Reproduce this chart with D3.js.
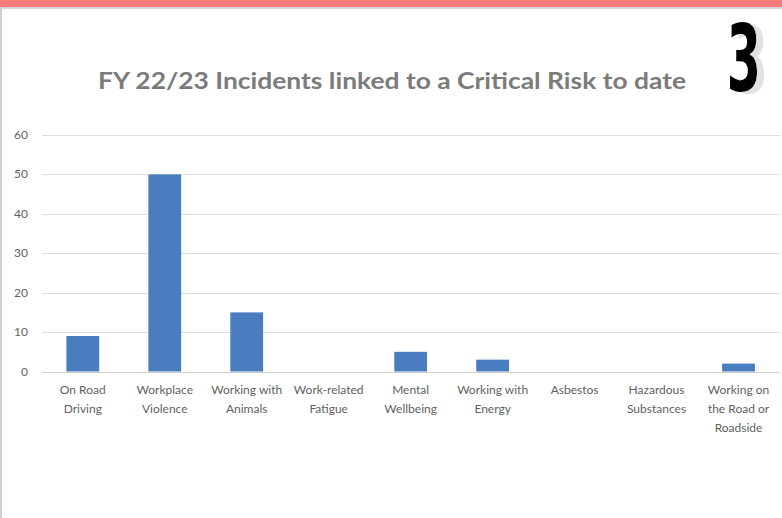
<!DOCTYPE html>
<html>
<head>
<meta charset="utf-8">
<script src="https://cdn.jsdelivr.net/npm/d3@7"></script>
<style>
  body { margin: 0; background: #fff; }
  svg { display: block; }
</style>
</head>
<body>
<script>
let w = 782
let h = 518

// chart data
let categories = [
  ["On Road", "Driving"],
  ["Workplace", "Violence"],
  ["Working with", "Animals"],
  ["Work-related", "Fatigue"],
  ["Mental", "Wellbeing"],
  ["Working with", "Energy"],
  ["Asbestos"],
  ["Hazardous", "Substances"],
  ["Working on", "the Road or", "Roadside"]
]
let incidents = [9, 50, 15, 0, 5, 3, 0, 0, 2]
let yTicks = [0, 10, 20, 30, 40, 50, 60]
let title = "FY 22/23 Incidents linked to a Critical Risk to date"

let svg = d3.select("body").append("svg")
  .attr("width", w)
  .attr("height", h)

// shadow for the big number (offsets are in the text's scaled units)
let shadow = svg.append("defs").append("filter")
  .attr("id", "shadow")
  .attr("x", "-20%").attr("y", "-20%")
  .attr("width", "180%").attr("height", "160%")
shadow.append("feOffset").attr("in", "SourceAlpha").attr("dx", 14).attr("dy", 2).attr("result", "off")
shadow.append("feFlood").attr("flood-color", "#e2e2e2").attr("result", "col")
shadow.append("feComposite").attr("in", "col").attr("in2", "off").attr("operator", "in").attr("result", "sh")
let merge = shadow.append("feMerge")
merge.append("feMergeNode").attr("in", "sh")
merge.append("feMergeNode").attr("in", "SourceGraphic")

// page frame: pink band on top, grey border lines
svg.append("rect").attr("x", 0).attr("y", 0).attr("width", w).attr("height", 7).attr("fill", "#ff7a7c")
svg.append("rect").attr("x", 0).attr("y", 7).attr("width", w).attr("height", 2).attr("fill", "#d4d4d4")
svg.append("rect").attr("x", 0).attr("y", 7).attr("width", 2).attr("height", h - 7).attr("fill", "#cfcfcf")

let x = d3.scaleBand()
  .domain(d3.range(categories.length))
  .range([41.8, 779.5])
  .paddingInner(0.6)
  .paddingOuter(0.3)

let y = d3.scaleLinear()
  .domain([0, 60])
  .range([371.5, 135])

// gridlines
svg.append("g")
  .selectAll("line")
  .data(yTicks)
  .enter()
  .append("line")
  .attr("x1", 42)
  .attr("x2", 780)
  .attr("y1", d => Math.round(y(d)) + 0.5)
  .attr("y2", d => Math.round(y(d)) + 0.5)
  .attr("stroke", d => d === 0 ? "#d0d0d0" : "#dedede")
  .attr("stroke-width", 1)

// y labels
svg.append("g")
  .selectAll("text")
  .data(yTicks)
  .enter()
  .append("text")
  .text(d => d)
  .attr("x", 28)
  .attr("y", d => y(d) + 4)
  .attr("text-anchor", "end")
  .attr("fill", "#5f5f5f")
  .style("font-family", "Lato, 'Open Sans', sans-serif")
  .style("font-size", "12px")

// bars
svg.append("g")
  .selectAll("rect")
  .data(incidents)
  .enter()
  .append("rect")
  .attr("x", (d, i) => x(i))
  .attr("y", d => y(d))
  .attr("width", x.bandwidth())
  .attr("height", d => y(0) - y(d))
  .attr("fill", "#4a7dbf")

// category labels
let labels = svg.append("g")
  .selectAll("text")
  .data(categories)
  .enter()
  .append("text")
  .attr("text-anchor", "middle")
  .attr("fill", "#5f5f5f")
  .style("font-family", "Lato, 'Open Sans', sans-serif")
  .style("font-size", "12px")

labels.selectAll("tspan")
  .data((d, i) => d.map(line => ({ line: line, i: i })))
  .enter()
  .append("tspan")
  .attr("x", d => x(d.i) + x.bandwidth() / 2)
  .attr("y", (d, j) => 394 + j * 19)
  .text(d => d.line)

// title
svg.append("text")
  .text(title)
  .attr("x", 392)
  .attr("y", 89)
  .attr("text-anchor", "middle")
  .attr("fill", "#7b7b7b")
  .attr("textLength", 588)
  .attr("lengthAdjust", "spacingAndGlyphs")
  .style("font-family", "Lato, 'Open Sans', sans-serif")
  .style("font-weight", "bold")
  .style("font-size", "22px")

// big number badge
svg.append("text")
  .text("3")
  .attr("transform", "translate(744,91) scale(0.52,0.97)")
  .attr("text-anchor", "middle")
  .attr("fill", "#000")
  .attr("filter", "url(#shadow)")
  .style("font-family", "'DejaVu Sans', sans-serif")
  .style("font-weight", "bold")
  .style("font-size", "95px")
</script>
</body>
</html>
